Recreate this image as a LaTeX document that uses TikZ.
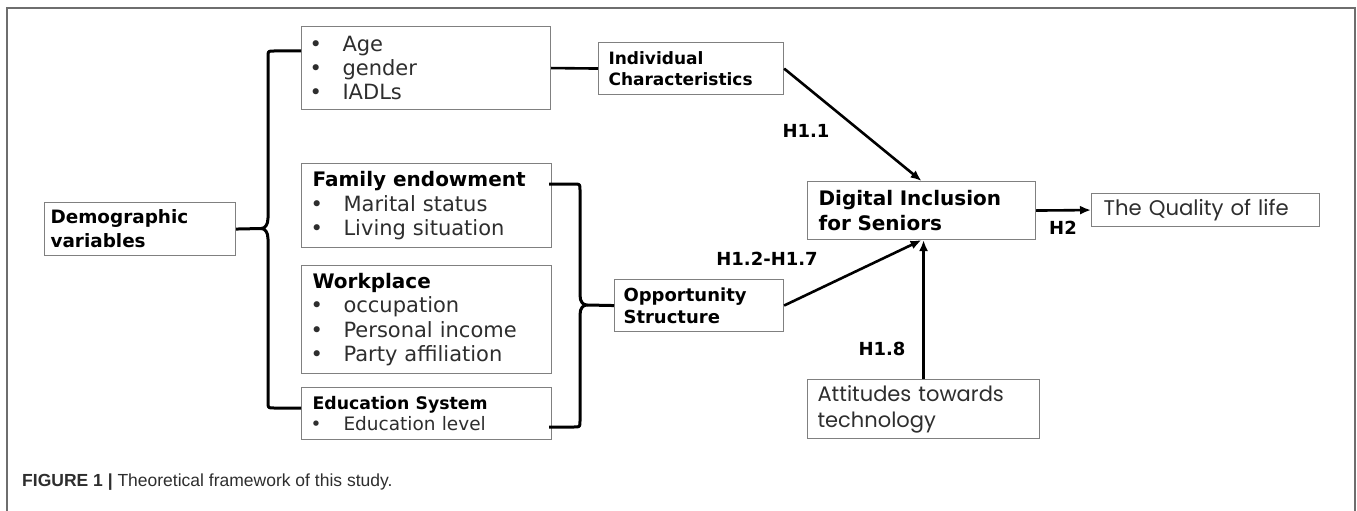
\documentclass[tikz,border=0pt]{standalone}
\usepackage{fontspec}
\setmainfont{DejaVu Sans}
\newfontfamily\popfont{Poppins}
\newfontfamily\capfont{Liberation Sans}
\usetikzlibrary{arrows.meta,calc}
\definecolor{boxgray}{HTML}{808080}
\definecolor{txtgray}{HTML}{2E2E2E}
\definecolor{framegray}{HTML}{6E6E6E}
\newcommand{\bul}{\makebox[31pt][l]{\hspace{-2pt}\textbullet}}
\begin{document}
\begin{tikzpicture}[x=1pt,y=-1pt,
 box/.style={draw=boxgray,line width=1.1pt,inner xsep=10pt,inner ysep=0pt,align=left,anchor=north west,text=txtgray},
 hlabel/.style={font=\bfseries\fontsize{18}{20}\selectfont,text=black,inner sep=0pt},
 conn/.style={line width=2.6pt,black},
 arr/.style={conn,-{Latex[length=11pt,width=9pt]}},
 brace/.style={line width=3pt,black,line join=round}]
\useasboundingbox (0,0) rectangle (1357,511);
\clip (0,0) rectangle (1357,511);
\fill[white] (0,0) rectangle (1357,511);
\draw[framegray,line width=1.5pt] (7,8) rectangle (1355,540);

% boxes
\node[box,text width=229pt,minimum height=83pt,font=\fontsize{21}{24}\selectfont] (indiv) at (301,26)
  {\bul Age\\ \bul gender\\ \bul IADLs};
\node[box,inner xsep=11pt,text width=228pt,minimum height=84pt,font=\fontsize{21}{24}\selectfont] (fam) at (301,163)
  {{\color{black}\bfseries\fontsize{20}{24}\selectfont Family endowment}\\[1.5pt] \bul Marital status\\ \bul Living situation};
\node[box,inner xsep=11pt,text width=228pt,minimum height=108pt,font=\fontsize{21}{24.5}\selectfont] (work) at (301,265)
  {{\color{black}\bfseries\fontsize{20}{24}\selectfont Workplace}\\ \bul occupation\\ \bul Personal income\\ \bul Party affiliation};
\node[box,inner xsep=11pt,text width=228pt,minimum height=52pt,font=\fontsize{18.5}{21}\selectfont] (edu) at (301,387)
  {{\color{black}\bfseries\fontsize{17.3}{21}\selectfont Education System}\\ \bul Education level};
\node[box,inner xsep=6pt,text width=179pt,minimum height=53pt,text=black,font=\bfseries\fontsize{18.4}{24}\selectfont] (demo) at (44,202)
  {Demographic\\ variables};
\node[box,text width=165pt,minimum height=52pt,text=black,font=\bfseries\fontsize{17}{21}\selectfont] (ic) at (598,42)
  {Individual\\ Characteristics};
\node[box,inner xsep=9pt,text width=151pt,minimum height=52pt,text=black,font=\bfseries\fontsize{18}{22}\selectfont] (opp) at (614,279)
  {Opportunity\\ Structure};
\node[box,inner xsep=11pt,text width=206pt,minimum height=58pt,text=black,font=\bfseries\fontsize{20}{25}\selectfont] (dig) at (807,181)
  {Digital Inclusion\\ for Seniors};
\node[box,inner xsep=12pt,text width=204pt,minimum height=33pt,text=txtgray,font=\popfont\fontsize{21.2}{24}\selectfont] (qol) at (1091,193)
  {The Quality of life};
\node[box,text width=212pt,minimum height=59pt,text=txtgray,font=\popfont\fontsize{21}{26}\selectfont] (att) at (807,379)
  {Attitudes towards\\ technology};

% labels
\node[hlabel] (h11) at (806,131) {H1.1};
\node[hlabel] (h12) at (767,259) {H1.2-H1.7};
\node[hlabel] (h18) at (882,349) {H1.8};
\node[hlabel] (h2) at (1063,228) {H2};

% caption
\node[anchor=west,inner sep=0pt,font=\capfont\fontsize{17.5}{20}\selectfont,text=txtgray] (cap) at (22,482)
  {\textbf{FIGURE 1 |} Theoretical framework of this study.};

% braces
\coordinate (ltip) at (261,228.5);
\draw[brace] ($(indiv.north west)+(0,25)$) -- (274,51) .. controls (268,51) .. (268,57)
  -- (268,218) .. controls (268,225) and (265,228.5) .. (ltip)
  .. controls (265,228.5) and (268,232) .. (268,239)
  -- (268,402) .. controls (268,408) .. (274,408) -- ($(edu.north west)+(0,21)$);
\draw[brace] (demo.east) -- (ltip);

\coordinate (rtip) at (587,305);
\draw[brace] ($(fam.north east)+(-3,21)$) -- (574,184) .. controls (580,184) .. (580,190)
  -- (580,295) .. controls (580,302) and (583,305) .. (rtip)
  .. controls (583,305) and (580,308) .. (580,315)
  -- (580,421) .. controls (580,427) .. (574,427) -- ($(edu.north east)+(-3,40)$);
\draw[brace] (rtip) -- (opp.west);

% connectors
\draw[conn] (indiv.east) -- (ic.west);
\draw[arr] (ic.east) -- (dig.north);
\draw[arr] (opp.east) -- (dig.south);
\draw[arr] (att.north) -- (att.north |- dig.south);
\draw[arr] (dig.east) -- (qol.west);
\end{tikzpicture}
\end{document}
